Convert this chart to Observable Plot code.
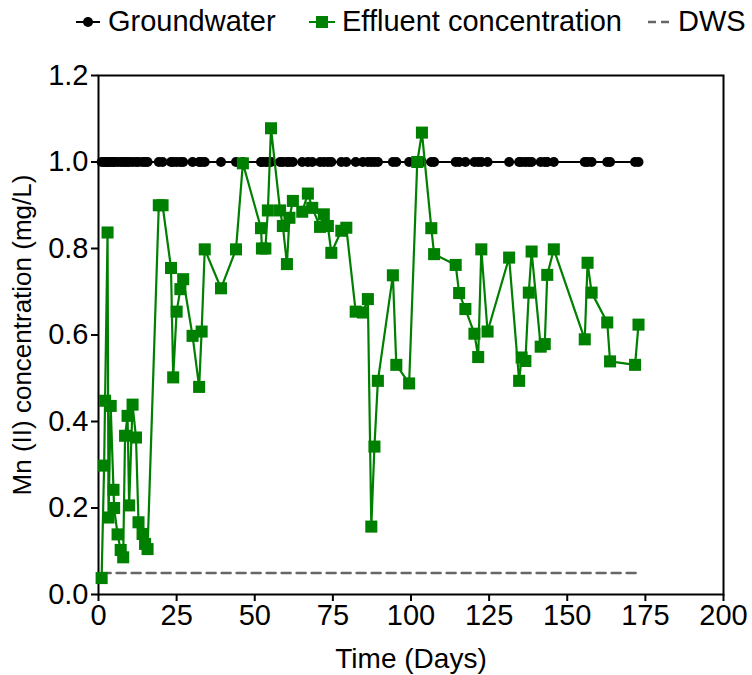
<!DOCTYPE html>
<html>
<head>
<meta charset="utf-8">
<script src="https://cdn.jsdelivr.net/npm/d3@7"></script>
<script src="https://cdn.jsdelivr.net/npm/@observablehq/plot@0.6"></script>
<style>
  html, body { margin: 0; padding: 0; background: #fff; }
  body { width: 752px; height: 675px; overflow: hidden; font-family: "Liberation Sans", Arial, sans-serif; color: #000; }
  #legend { position: relative; width: 752px; height: 45px; font-size: 29px; }
  #legend .t { position: absolute; top: 7px; line-height: 29px; white-space: nowrap; }
  #legend svg { position: absolute; top: 0; left: 0; }
  #chart svg { display: block; overflow: visible; }
</style>
</head>
<body>
<div id="legend">
  <svg width="752" height="45">
    <line x1="76" y1="22" x2="100" y2="22" stroke="#000" stroke-width="2"/>
    <circle cx="88" cy="22" r="5" fill="#000"/>
    <line x1="309" y1="22" x2="335" y2="22" stroke="#008000" stroke-width="2"/>
    <rect x="316" y="16" width="12" height="12" fill="#008000"/>
    <line x1="648" y1="22" x2="672" y2="22" stroke="#666" stroke-width="2.5" stroke-dasharray="8,5"/>
  </svg>
  <span class="t" style="left:108px">Groundwater</span>
  <span class="t" style="left:342px">Effluent concentration</span>
  <span class="t" style="left:678px">DWS</span>
</div>
<div id="chart"></div>
<script>
// Sampling days (Time, Days)
const days = [1.0, 1.8, 2.1, 2.9, 3.2, 3.9, 4.8, 5.0, 6.1, 7.1, 7.9, 8.5, 9.3, 9.8, 10.9, 12.0, 12.8, 14.1, 14.9, 15.7,
  19.3, 20.5, 23.2, 23.9, 25.0, 26.2, 27.1, 30.1, 32.2, 33.0, 34.0, 39.2, 44.0, 46.2, 52.0, 52.3, 53.4, 54.2, 55.2,
  58.1, 59.0, 60.3, 61.1, 62.2, 65.2, 67.0, 68.4, 70.9, 72.1, 73.4, 74.5, 77.7, 79.3, 82.3, 84.6, 86.2, 87.3, 88.3,
  89.4, 94.2, 95.3, 99.4, 102.0, 103.5, 106.5, 107.4, 114.3, 115.4, 117.4, 120.3, 121.5, 122.5, 124.5, 131.4, 134.6,
  135.4, 136.6, 137.7, 138.6, 141.5, 142.8, 143.6, 145.7, 155.6, 156.5, 157.8, 162.8, 163.7, 171.7, 172.8];

// Effluent Mn(II) concentration (mg/L)
const effluent = [0.038, 0.298, 0.448, 0.837, 0.178, 0.436, 0.242, 0.200, 0.139, 0.103, 0.086, 0.367, 0.413, 0.206, 0.439, 0.363, 0.167, 0.140, 0.117, 0.105,
  0.900, 0.900, 0.755, 0.502, 0.654, 0.706, 0.729, 0.598, 0.480, 0.608, 0.798, 0.708, 0.798, 0.997, 0.847, 0.800, 0.800, 0.888, 1.078,
  0.888, 0.852, 0.764, 0.871, 0.910, 0.885, 0.927, 0.894, 0.850, 0.879, 0.852, 0.790, 0.841, 0.848, 0.654, 0.652, 0.683, 0.157, 0.342,
  0.494, 0.738, 0.531, 0.488, 1.000, 1.068, 0.847, 0.787, 0.762, 0.697, 0.660, 0.603, 0.549, 0.798, 0.608, 0.779, 0.494,
  0.548, 0.540, 0.698, 0.793, 0.573, 0.579, 0.739, 0.798, 0.590, 0.767, 0.698, 0.629, 0.539, 0.531, 0.624];

// Groundwater Mn(II) concentration (mg/L), same sampling days
const groundwater = [1.0, 1.0, 1.0, 1.0, 1.0, 1.0, 1.0, 1.0, 1.0, 1.0, 1.0, 1.0, 1.0, 1.0, 1.0, 1.0, 1.0, 1.0, 1.0, 1.0,
  1.0, 1.0, 1.0, 1.0, 1.0, 1.0, 1.0, 1.0, 1.0, 1.0, 1.0, 1.0, 1.0, 1.0, 1.0, 1.0, 1.0, 1.0, 1.0,
  1.0, 1.0, 1.0, 1.0, 1.0, 1.0, 1.0, 1.0, 1.0, 1.0, 1.0, 1.0, 1.0, 1.0, 1.0, 1.0, 1.0, 1.0, 1.0,
  1.0, 1.0, 1.0, 1.0, 1.0, 1.0, 1.0, 1.0, 1.0, 1.0, 1.0, 1.0, 1.0, 1.0, 1.0, 1.0, 1.0,
  1.0, 1.0, 1.0, 1.0, 1.0, 1.0, 1.0, 1.0, 1.0, 1.0, 1.0, 1.0, 1.0, 1.0, 1.0];

// Drinking water standard
const dwsDays = [1, 173];
const dwsValues = [0.05, 0.05];

const xTicks = [0, 25, 50, 75, 100, 125, 150, 175, 200];
const yTicks = [0.0, 0.2, 0.4, 0.6, 0.8, 1.0, 1.2];

const eff = days.map((d, i) => ({day: d, value: effluent[i]}));
const gw = days.map((d, i) => ({day: d, value: groundwater[i]}));
const dws = dwsDays.map((d, i) => ({day: d, value: dwsValues[i]}));

const font = '"Liberation Sans", Arial, sans-serif';

const chart = Plot.plot({
  width: 752,
  height: 630,
  marginLeft: 98,
  marginRight: 29,
  marginTop: 30,
  marginBottom: 81,
  style: {fontFamily: font, fontSize: "29px", color: "#000", background: "#fff", overflow: "visible"},
  x: {domain: [0, 200]},
  y: {domain: [0, 1.2]},
  marks: [
    Plot.axisX({ticks: xTicks, tickSize: 7, tickPadding: 3, strokeWidth: 2, fontSize: 29,
      label: null}),
    Plot.axisX({ticks: [], label: "Time (Days)", labelAnchor: "center", labelArrow: "none", labelOffset: 73, fontSize: 28}),
    Plot.axisY({ticks: yTicks, tickFormat: d3.format(".1f"), tickSize: 7, tickPadding: 3, strokeWidth: 2, fontSize: 29,
      label: null}),
    Plot.axisY({ticks: [], label: "Mn (II) concentration (mg/L)", labelAnchor: "center", labelArrow: "none", labelOffset: 86, fontSize: 26}),
    Plot.frame({stroke: "#000", strokeWidth: 2}),
    Plot.line(dws, {x: "day", y: "value", stroke: "#666", strokeWidth: 2.5, strokeDasharray: "9,6"}),
    Plot.line(gw, {x: "day", y: "value", stroke: "#000", strokeWidth: 2}),
    Plot.dot(gw, {x: "day", y: "value", r: 5, fill: "#000", stroke: "none"}),
    Plot.line(eff, {x: "day", y: "value", stroke: "#008000", strokeWidth: 2.2}),
    Plot.dot(eff, {x: "day", y: "value", symbol: "square", r: 6.8, fill: "#008000", stroke: "none"})
  ]
});
document.getElementById("chart").appendChild(chart);
</script>
</body>
</html>
